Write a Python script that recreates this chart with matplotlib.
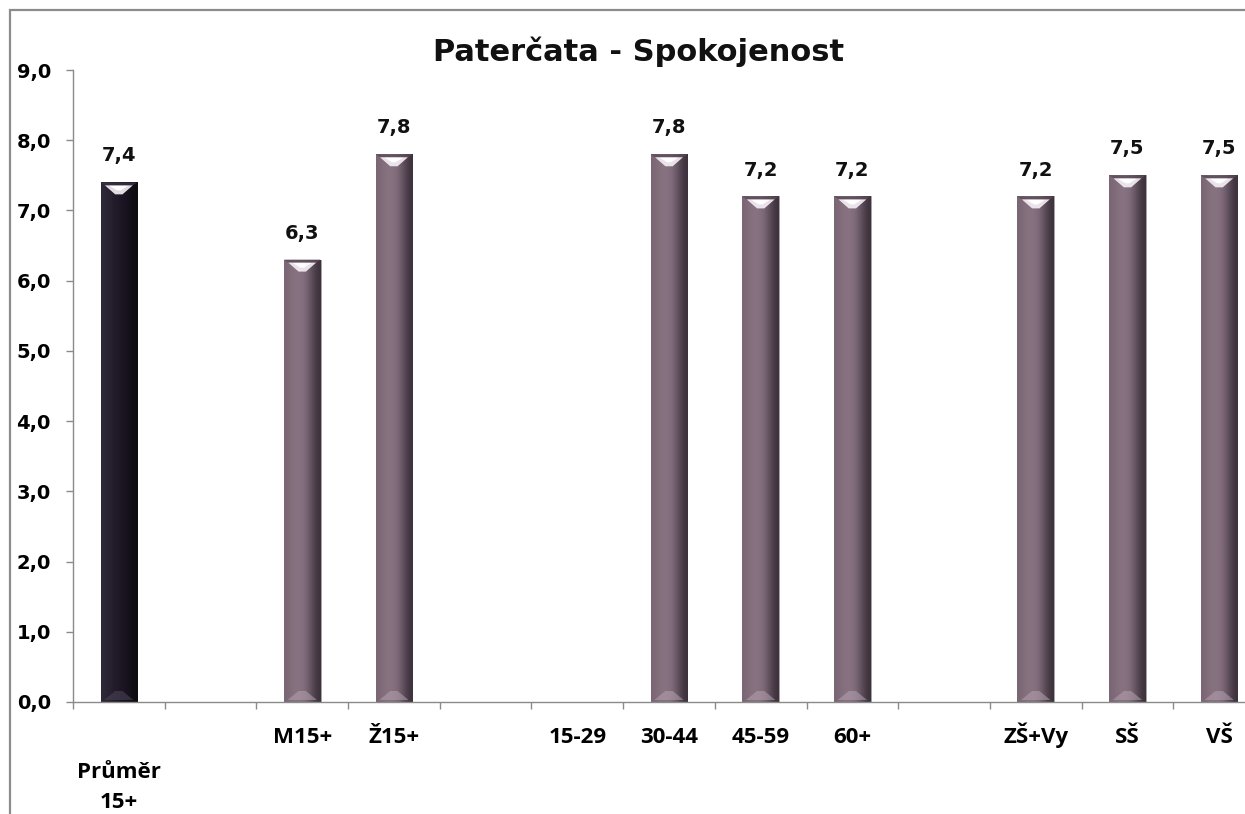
import numpy as np
import matplotlib
matplotlib.use("Agg")
import matplotlib.pyplot as plt
from matplotlib.patches import Rectangle, Polygon
from matplotlib.colors import to_rgb

# ---- data ----
categories = ["Průměr\n15+", "", "M15+", "Ž15+", "", "15-29", "30-44", "45-59", "60+", "", "ZŠ+Vy", "SŠ", "VŠ"]
values = [7.4, np.nan, 6.3, 7.8, np.nan, np.nan, 7.8, 7.2, 7.2, np.nan, 7.2, 7.5, 7.5]
is_total = [True] + [False] * 12
yticks = [0, 1, 2, 3, 4, 5, 6, 7, 8, 9]
title = "Paterčata - Spokojenost"

W, H = 1245, 814
fig = plt.figure(figsize=(W / 100, H / 100), dpi=100)
fig.patch.set_facecolor("white")

# outer chart border (cropped at right/bottom)
fig.add_artist(Rectangle((10 / W, -0.2), 1.5, 1.2 - 10 / H, transform=fig.transFigure,
                         fill=False, edgecolor="#8c8c8c", lw=1.6))

ax_l, ax_r = 73 / W, 1265 / W
ax_b, ax_t = 1 - 702 / H, 1 - 70 / H
ax = fig.add_axes([ax_l, ax_b, ax_r - ax_l, ax_t - ax_b])

x = np.arange(len(categories))
bw = 0.40
dark_grad = ["#2e2838", "#28212f", "#201a29", "#1b1624", "#15111b", "#0e0b12"]
light_grad = ["#7a6674", "#86717f", "#887382", "#806b7b", "#5e4e5b", "#3d323c"]

px_y = 9.0 / (702 - 70)

for xi, v, tot in zip(x, values, is_total):
    if np.isnan(v):
        continue
    grad = dark_grad if tot else light_grad
    bars = ax.bar(xi, v, width=bw, color=grad[2], edgecolor="#a0a0a0", lw=0.6, zorder=2)
    b = bars[0]
    img = np.array([[to_rgb(c) for c in grad]])
    im = ax.imshow(img, extent=(xi - bw / 2, xi + bw / 2, 0, v), aspect="auto",
                   interpolation="bicubic", zorder=2.5)
    im.set_clip_path(b)
    x0, x1 = xi - bw / 2, xi + bw / 2
    top = v
    # top bevel band
    hl2 = Polygon([(x0, top), (x1, top), (x1 - 0.12 * bw, top - 3 * px_y), (x0 + 0.12 * bw, top - 3 * px_y)],
                  closed=True, facecolor="#5a4a58" if not tot else "#3a3344", edgecolor="none",
                  alpha=0.8, zorder=3)
    ax.add_patch(hl2)
    # top highlight (inverted trapezoid)
    hl = Polygon([(x0 + 0.12 * bw, top - 3 * px_y), (x1 - 0.12 * bw, top - 3 * px_y),
                  (xi + 0.10 * bw, top - 12 * px_y), (xi - 0.10 * bw, top - 12 * px_y)],
                 closed=True, facecolor="#f4eef3", edgecolor="none", alpha=0.92, zorder=3)
    ax.add_patch(hl)
    hlc = Polygon([(x0 + 0.25 * bw, top - 3.5 * px_y), (x1 - 0.25 * bw, top - 3.5 * px_y),
                   (xi + 0.05 * bw, top - 8 * px_y), (xi - 0.05 * bw, top - 8 * px_y)],
                  closed=True, facecolor="white", edgecolor="none", zorder=3.1)
    ax.add_patch(hlc)
    # bottom bevel
    bl = Polygon([(x0 + 0.1 * bw, 2 * px_y), (x1 - 0.1 * bw, 2 * px_y),
                  (xi + 0.1 * bw, 11 * px_y), (xi - 0.1 * bw, 11 * px_y)],
                 closed=True, facecolor="#b4a2b0" if not tot else "#4e4658", edgecolor="none",
                 alpha=0.55, zorder=3)
    ax.add_patch(bl)
    ax.annotate(f"{v:.1f}".replace(".", ","), (xi, v), xytext=(0, 19), textcoords="offset points",
                ha="center", va="center", fontsize=14, fontweight="bold",
                family="DejaVu Sans", color="#111111", zorder=4)

ax.set_xlim(-0.5, len(categories) - 0.5)
ax.set_ylim(0, 9)

for s in ["top", "right"]:
    ax.spines[s].set_visible(False)
for s in ["left", "bottom"]:
    ax.spines[s].set_color("#8a8a8a")
    ax.spines[s].set_linewidth(1.0)

ax.set_yticks(yticks)
ax.set_yticklabels([f"{t:.1f}".replace(".", ",") for t in yticks],
                   fontsize=14, fontweight="bold", family="DejaVu Sans")
ax.tick_params(axis="y", length=5, width=1, color="#8a8a8a", pad=11)

ax.set_xticks(np.arange(len(categories) + 1) - 0.5)
ax.set_xticklabels([])
ax.tick_params(axis="x", which="major", length=5, width=1, color="#8a8a8a")
ax.set_xticks(x, minor=True)
ax.set_xticklabels(categories, minor=True, fontsize=16, fontweight="bold",
                   family="Open Sans", linespacing=1.55, va="baseline")
ax.tick_params(axis="x", which="minor", length=0, pad=29.5)
# the wrapped first label sits one line lower (its last line baseline ~106 px below the axis)
ax.xaxis.get_minor_ticks()[0].set_pad(76)

fig.text(639 / W, 1 - 52 / H, title, ha="center", va="center", fontsize=22,
         fontweight="bold", family="DejaVu Sans", color="#111111")

fig.savefig("out.png", dpi=100)
